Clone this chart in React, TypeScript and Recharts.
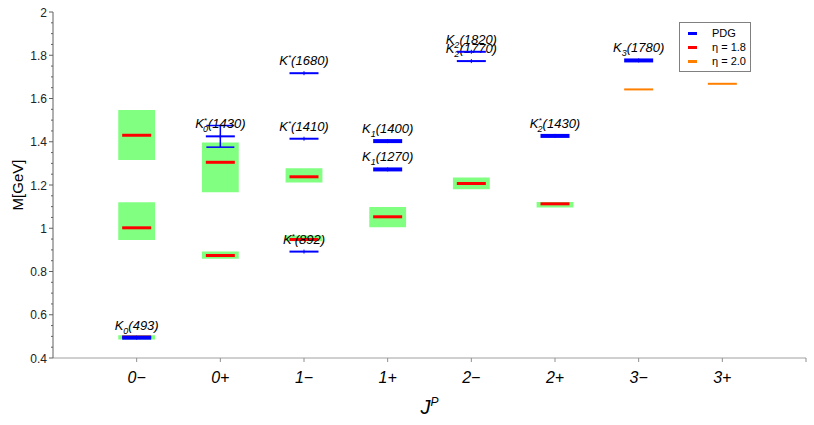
import React from 'react';
import {
  ComposedChart,
  Scatter,
  XAxis,
  YAxis,
  ReferenceArea,
  ErrorBar,
  Legend,
} from 'recharts';

const jpLabels = ['0−', '0+', '1−', '1+', '2−', '2+', '3−', '3+'];
const yMajorTicks = [0.4, 0.6, 0.8, 1, 1.2, 1.4, 1.6, 1.8, 2];
const yMinorTicks = [
  0.45, 0.5, 0.55, 0.65, 0.7, 0.75, 0.85, 0.9, 0.95, 1.05, 1.1, 1.15,
  1.25, 1.3, 1.35, 1.45, 1.5, 1.55, 1.65, 1.7, 1.75, 1.85, 1.9, 1.95,
];

// eta = 1.8 : mass with its band
const eta18JP = ['0−', '0−', '0−', '0+', '0+', '1−', '1−', '1+', '2−', '2+'];
const eta18Mass = [1.43, 1.002, 0.497, 1.305, 0.874, 1.238, 0.948, 1.053, 1.207, 1.113];
const eta18Low = [1.316, 0.946, 0.485, 1.166, 0.859, 1.212, 0.94, 1.005, 1.18, 1.096];
const eta18High = [1.547, 1.12, 0.505, 1.397, 0.893, 1.278, 0.966, 1.098, 1.235, 1.121];

// eta = 2.0
const eta20JP = ['3−', '3+'];
const eta20Mass = [1.642, 1.668];

// PDG
const pdgJP = ['0−', '0+', '1−', '1−', '1−', '1+', '1+', '2−', '2−', '2+', '3−'];
const pdgName = [
  'K_0(493)', 'K_0^*(1430)', 'K^*(892)', 'K^*(1410)', 'K^*(1680)',
  'K_1(1270)', 'K_1(1400)', 'K_2(1770)', 'K_2(1820)', 'K_2^*(1430)', 'K_3(1780)',
];
const pdgMass = [0.494, 1.425, 0.892, 1.414, 1.717, 1.272, 1.403, 1.773, 1.816, 1.427, 1.776];
const pdgErr = [0, 0.05, 0, 0, 0, 0, 0, 0, 0, 0, 0];

const thickPdg = ['K_0(493)', 'K_1(1270)', 'K_1(1400)', 'K_2^*(1430)', 'K_3(1780)'];

const FONT = '"Liberation Sans", Arial, sans-serif';
const BLUE = '#0000ff';
const RED = '#ff0000';
const ORANGE = '#ff8000';
const GREEN = '#80ff80';

const xOf = (jp: string) => jpLabels.indexOf(jp) + 1;

const eta18Data = eta18Mass.map((y, i) => ({ x: xOf(eta18JP[i]), y }));
const eta20Data = eta20Mass.map((y, i) => ({ x: xOf(eta20JP[i]), y }));
const pdgData = pdgMass.map((y, i) => ({
  x: xOf(pdgJP[i]),
  y,
  err: pdgErr[i],
  name: pdgName[i],
}));

const BOX_HALF = 0.22;

function ParticleLabel({ x, y, name }: { x: number; y: number; name: string }) {
  const m = name.match(/^K(?:_(\w))?(?:\^(\*))?(\(.*\))$/);
  if (!m) return null;
  const sub = m[1];
  const sup = m[2];
  const rest = m[3];
  return (
    <text x={x} y={y} textAnchor="middle" fontFamily={FONT} fontStyle="italic" fontSize={13} fill="#000">
      <tspan>K</tspan>
      {sup && <tspan dy={-5} fontSize={8}>*</tspan>}
      {sub && (
        <tspan dx={sup ? -4 : 0} dy={sup ? 9 : 4} fontSize={9}>
          {sub}
        </tspan>
      )}
      <tspan dy={sub ? -4 : sup ? 5 : 0}>{rest}</tspan>
    </text>
  );
}

const barShape = (color: string, width: number) => (props: any) => {
  const { cx, cy } = props;
  return <line x1={cx - 14.5} x2={cx + 14.5} y1={cy} y2={cy} stroke={color} strokeWidth={width} />;
};

const pdgShape = (props: any) => {
  const { cx, cy, payload } = props;
  const thick = thickPdg.includes(payload.name);
  return (
    <g>
      <line x1={cx - 14.5} x2={cx + 14.5} y1={cy} y2={cy} stroke={BLUE} strokeWidth={thick ? 4 : 2} />
      <line x1={cx} x2={cx} y1={cy - 2} y2={cy + 2} stroke={BLUE} strokeWidth={1} />
      <ParticleLabel x={cx} y={cy - 8} name={payload.name} />
    </g>
  );
};

const XTick = (props: any) => {
  const { x, y, payload } = props;
  const label = jpLabels[payload.value - 1];
  return (
    <g>
      <line x1={x} x2={x} y1={y} y2={y + 4} stroke="#909090" />
      {label && (
        <text x={x} y={y + 25} textAnchor="middle" fontFamily={'"Liberation Sans Narrow", ' + FONT} fontStyle="italic" fontSize={16} fill="#000">
          {label}
        </text>
      )}
    </g>
  );
};

const YTick = (props: any) => {
  const { x, y, payload } = props;
  const v = payload.value;
  const major = yMajorTicks.some((t) => Math.abs(t - v) < 1e-6);
  return (
    <g>
      <line x1={x - (major ? 4 : 2)} x2={x} y1={y} y2={y} stroke="#606060" />
      {major && (
        <text x={x - 6} y={y + 4.5} textAnchor="end" fontFamily={FONT} fontSize={12} fill="#222">
          {v}
        </text>
      )}
    </g>
  );
};

const legendOrder = ['PDG', 'η = 1.8', 'η = 2.0'];

const renderLegend = (props: any) => {
  const items = [...(props.payload || [])].sort(
    (a: any, b: any) => legendOrder.indexOf(a.value) - legendOrder.indexOf(b.value)
  );
  return (
    <div
      style={{
        border: '1px solid #808080',
        background: '#fff',
        width: 70,
        padding: '3px 0',
        fontFamily: FONT,
        fontSize: 11,
        lineHeight: '14px',
      }}
    >
      {items.map((it: any) => (
        <div key={it.value} style={{ display: 'flex', alignItems: 'center' }}>
          <span
            style={{
              display: 'inline-block',
              width: 9,
              height: 3,
              background: it.color,
              marginLeft: 8,
              marginRight: 15,
            }}
          />
          <span>{it.value}</span>
        </div>
      ))}
    </div>
  );
};

export default function App() {
  const xTicks = [...jpLabels.map((_, i) => i + 1), jpLabels.length + 1];
  const yTicks = [...yMajorTicks, ...yMinorTicks].sort((a, b) => a - b);
  return (
    <div style={{ position: 'absolute', left: 0, top: 0, background: '#fff' }}>
      <ComposedChart
        width={814}
        height={425}
        margin={{ top: 12, right: 8, bottom: 17, left: 8 }}
      >
        <XAxis
          type="number"
          dataKey="x"
          domain={[0, jpLabels.length + 1]}
          ticks={xTicks}
          allowDataOverflow
          height={50}
          tickSize={0}
          tickMargin={0}
          tickLine={false}
          axisLine={{ stroke: '#a0a0a0' }}
          tick={<XTick />}
          interval={0}
          label={(p: any) => {
            const vb = p.viewBox || {};
            const cx = vb.x + vb.width / 2;
            return (
              <text x={cx} y={414} textAnchor="middle" fontFamily={FONT} fontStyle="italic" fontSize={20} fill="#000">
                <tspan>J</tspan>
                <tspan dy={-8} fontSize={12}>P</tspan>
              </text>
            );
          }}
        />
        <YAxis
          type="number"
          dataKey="y"
          domain={[0.4, 2]}
          ticks={yTicks}
          allowDataOverflow
          width={45}
          tickSize={0}
          tickMargin={0}
          tickLine={false}
          axisLine={{ stroke: '#606060' }}
          tick={<YTick />}
          interval={0}
          label={(p: any) => {
            const vb = p.viewBox || {};
            const cy = vb.y + vb.height / 2;
            return (
              <text
                x={23}
                y={cy}
                transform={`rotate(-90, 23, ${cy})`}
                textAnchor="middle"
                fontFamily={FONT}
                fontSize={15}
                fill="#000"
              >
                M[GeV]
              </text>
            );
          }}
        />
        {eta18Mass.map((_, i) => (
          <ReferenceArea
            key={'box' + i}
            x1={xOf(eta18JP[i]) - BOX_HALF}
            x2={xOf(eta18JP[i]) + BOX_HALF}
            y1={eta18Low[i]}
            y2={eta18High[i]}
            fill={GREEN}
            fillOpacity={1}
            stroke="none"
          />
        ))}
        <Scatter
          name="η = 1.8"
          data={eta18Data}
          fill={RED}
          shape={barShape(RED, 3)}
          isAnimationActive={false}
        />
        <Scatter
          name="η = 2.0"
          data={eta20Data}
          fill={ORANGE}
          shape={barShape(ORANGE, 2)}
          isAnimationActive={false}
        />
        <Scatter
          name="PDG"
          data={pdgData}
          fill={BLUE}
          shape={pdgShape}
          isAnimationActive={false}
        >
          <ErrorBar dataKey="err" direction="y" width={14} stroke={BLUE} strokeWidth={1.5} />
        </Scatter>
        <Legend
          layout="vertical"
          verticalAlign="middle"
          align="center"
          content={renderLegend}
          wrapperStyle={{ left: 679, top: 22, width: 72 }}
        />
      </ComposedChart>
    </div>
  );
}
